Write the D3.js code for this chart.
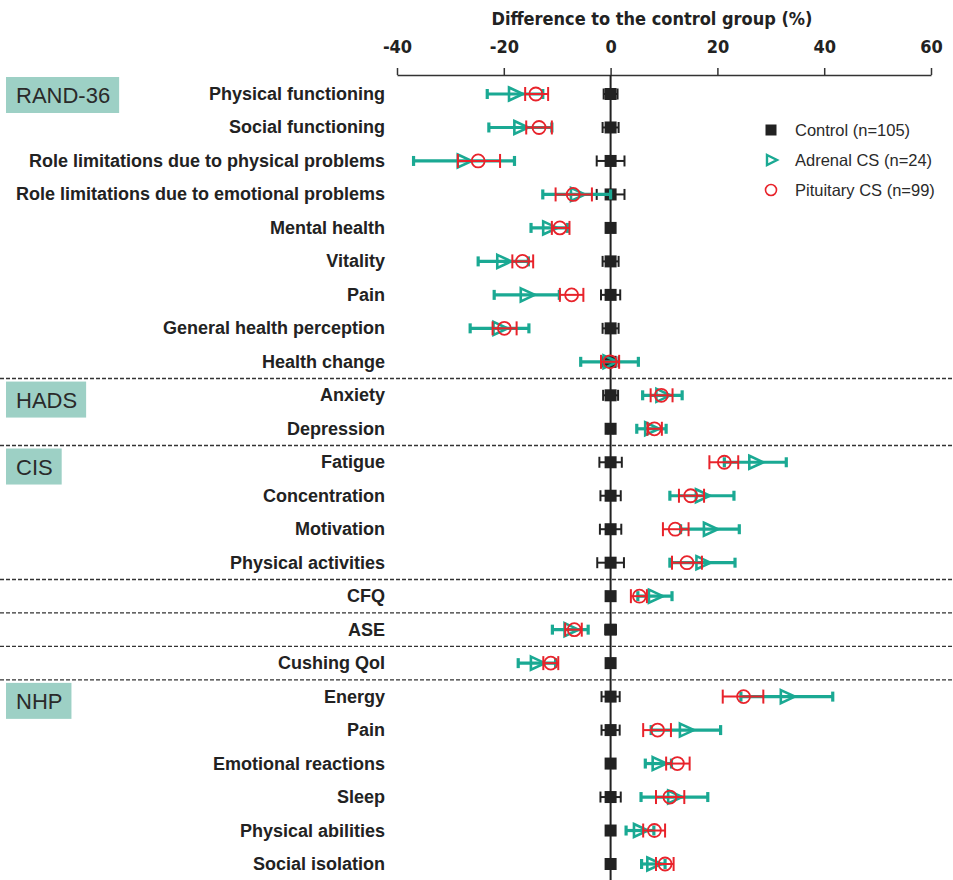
<!DOCTYPE html>
<html>
<head>
<meta charset="utf-8">
<script src="https://cdn.jsdelivr.net/npm/d3@7"></script>
<style>
  html, body { margin: 0; padding: 0; background: #fff; }
  svg { display: block; }
</style>
</head>
<body>
<svg id="chart" width="953" height="880"></svg>
<script>
// Outcome measures, top to bottom
const categories = [
  "Physical functioning", "Social functioning",
  "Role limitations due to physical problems", "Role limitations due to emotional problems",
  "Mental health", "Vitality", "Pain", "General health perception", "Health change",
  "Anxiety", "Depression",
  "Fatigue", "Concentration", "Motivation", "Physical activities",
  "CFQ", "ASE", "Cushing QoI",
  "Energy", "Pain ", "Emotional reactions", "Sleep", "Physical abilities", "Social isolation"
];

// Questionnaire blocks: name and index of their first row
const groupNames = ["RAND-36", "HADS", "CIS", "NHP"];
const groupFirstRow = [0, 9, 11, 18];
// Dashed separators are drawn below these rows
const separatorAfter = [8, 10, 14, 15, 16, 17];

// Control group: mean 0, half-width of the 95% CI
const controlHalfCI = [1.3, 1.5, 2.6, 2.6, 0.6, 1.5, 1.8, 1.5, 1.5, 1.4, 0.5,
  2.1, 1.9, 2.0, 2.5, 0.8, 1.0, 0.5, 1.7, 1.7, 0.5, 1.9, 0.5, 0.5];

// Adrenal CS (n=24)
const adrenalMean = [-17.9, -16.9, -27.5, -6.3, -11.5, -20.1, -15.7, -20.8, -0.2,
  9.7, 7.6, 27.1, 17.1, 18.6, 17.2, 8.3, -7.5, -13.8, 33.0, 14.1, 9.0, 11.9, 5.5, 8.0];
const adrenalLow = [-23.1, -22.8, -36.9, -12.7, -14.9, -24.8, -21.8, -26.3, -5.6,
  6.0, 4.9, 21.3, 11.1, 13.1, 11.1, 5.1, -10.9, -17.3, 24.4, 7.6, 6.5, 5.7, 2.9, 5.8];
const adrenalHigh = [-12.7, -11.0, -18.0, 0.0, -8.1, -15.4, -9.6, -15.3, 5.2,
  13.4, 10.4, 32.9, 23.1, 24.1, 23.3, 11.5, -4.2, -10.3, 41.6, 20.6, 11.4, 18.2, 8.1, 10.2];

// Pituitary CS (n=99)
const pituitaryMean = [-14.0, -13.4, -24.8, -7.0, -9.5, -16.5, -7.3, -19.9, -0.1,
  9.5, 8.2, 21.3, 15.0, 12.1, 14.3, 5.4, -6.8, -11.2, 24.9, 8.8, 12.5, 11.1, 8.2, 10.2];
const pituitaryLow = [-16.0, -15.8, -28.6, -10.3, -11.0, -18.4, -9.5, -22.1, -1.8,
  7.5, 6.9, 18.5, 12.8, 9.8, 11.5, 3.8, -8.5, -12.6, 21.0, 6.1, 10.4, 8.5, 6.1, 8.5];
const pituitaryHigh = [-11.7, -11.0, -20.7, -3.5, -7.7, -14.5, -5.1, -17.6, 1.6,
  11.6, 9.6, 23.9, 17.5, 14.6, 17.1, 6.8, -5.4, -9.8, 28.6, 11.3, 14.8, 13.8, 10.2, 11.8];

const tickValues = [-40, -20, 0, 20, 40, 60];
const axisTitle = "Difference to the control group (%)";
const legendLabels = ["Control (n=105)", "Adrenal CS (n=24)", "Pituitary CS (n=99)"];

const TEAL = "#1aa993";
const RED = "#e8232b";
const DARK = "#222";
const BOX = "#9dd0c5";
const CONDENSED = "'Liberation Sans Narrow', 'DejaVu Sans Condensed', Arial, sans-serif";

const svg = d3.select("#chart");
const W = 953, H = 880;

const x = d3.scaleLinear().domain([-40, 60]).range([397, 931]);
const y = d3.scalePoint().domain(d3.range(categories.length)).range([94, 864]);
const step = y.step();

// Top axis (plain hyphen-minus in labels)
const axisY = 75;
const axis = svg.append("g")
  .attr("transform", `translate(0,${axisY})`)
  .call(d3.axisTop(x).tickValues(tickValues).tickFormat(d => String(d))
    .tickSize(7).tickSizeOuter(0).tickPadding(15));
axis.select(".domain").attr("stroke", "#333").attr("stroke-width", 1.5);
axis.selectAll(".tick line").attr("stroke", "#333").attr("stroke-width", 1.5);
axis.selectAll(".tick text")
  .attr("font-family", CONDENSED)
  .attr("font-weight", "bold").attr("font-size", 18).attr("fill", DARK);

svg.append("text")
  .attr("x", 652).attr("y", 25).attr("text-anchor", "middle")
  .attr("font-family", CONDENSED)
  .attr("font-weight", "bold").attr("font-size", 18).attr("fill", DARK)
  .text(axisTitle);

// Dashed separators between questionnaires
svg.append("g").selectAll("line").data(separatorAfter).join("line")
  .attr("x1", 0).attr("x2", W)
  .attr("y1", i => y(i) + step / 2).attr("y2", i => y(i) + step / 2)
  .attr("stroke", "#333").attr("stroke-width", 1.4).attr("stroke-dasharray", "4,2");

// Zero reference line
svg.append("line")
  .attr("x1", x(0)).attr("x2", x(0)).attr("y1", axisY).attr("y2", H)
  .attr("stroke", DARK).attr("stroke-width", 2);

// Row labels
svg.append("g").selectAll("text").data(categories).join("text")
  .attr("x", 385).attr("y", (d, i) => y(i) + 6)
  .attr("text-anchor", "end")
  .attr("font-family", "'Liberation Sans', Arial, sans-serif")
  .attr("font-weight", "bold").attr("font-size", 18).attr("fill", DARK)
  .text(d => d.trim());

// Questionnaire name boxes
const sepY = separatorAfter.map(i => y(i) + step / 2);
groupNames.forEach((name, g) => {
  const rowY = y(groupFirstRow[g]);
  const above = sepY.filter(s => s < rowY);
  const limit = above.length ? d3.max(above) + 3 : axisY + 2;
  const top = Math.max(rowY - 17, limit);
  const grp = svg.append("g");
  const rect = grp.append("rect").attr("x", 6).attr("y", top).attr("height", 36).attr("fill", BOX);
  const t = grp.append("text")
    .attr("x", 16).attr("y", top + 26)
    .attr("font-family", "'Liberation Sans', Arial, sans-serif")
    .attr("font-size", 22).attr("fill", "#2a2a2a").text(name);
  rect.attr("width", t.node().getComputedTextLength() + 19);
});

// Error bar helper
function errorBars(lo, hi, color, width, capH) {
  const g = svg.append("g").attr("stroke", color).attr("stroke-width", width).attr("fill", "none");
  const idx = d3.range(categories.length);
  g.selectAll(".bar").data(idx).join("line")
    .attr("x1", i => x(lo[i])).attr("x2", i => x(hi[i]))
    .attr("y1", i => y(i)).attr("y2", i => y(i));
  g.selectAll(".capl").data(idx).join("line")
    .attr("x1", i => x(lo[i])).attr("x2", i => x(lo[i]))
    .attr("y1", i => y(i) - capH / 2).attr("y2", i => y(i) + capH / 2);
  g.selectAll(".caph").data(idx).join("line")
    .attr("x1", i => x(hi[i])).attr("x2", i => x(hi[i]))
    .attr("y1", i => y(i) - capH / 2).attr("y2", i => y(i) + capH / 2);
}

// Control
const ctrlLo = controlHalfCI.map(h => -h), ctrlHi = controlHalfCI.map(h => h);
errorBars(ctrlLo, ctrlHi, DARK, 2, 11);
svg.append("g").selectAll("rect").data(d3.range(categories.length)).join("rect")
  .attr("x", x(0) - 6).attr("y", i => y(i) - 6).attr("width", 12).attr("height", 12)
  .attr("fill", DARK);

// Adrenal CS
errorBars(adrenalLow, adrenalHigh, TEAL, 3.2, 10);
const tri = "M-6,-6.5L8,0L-6,6.5Z";
svg.append("g").selectAll("path").data(d3.range(categories.length)).join("path")
  .attr("d", tri)
  .attr("transform", i => `translate(${x(adrenalMean[i])},${y(i)})`)
  .attr("fill", "none").attr("stroke", TEAL).attr("stroke-width", 2.6).attr("stroke-linejoin", "miter");

// Pituitary CS
errorBars(pituitaryLow, pituitaryHigh, RED, 2, 14);
svg.append("g").selectAll("circle").data(d3.range(categories.length)).join("circle")
  .attr("cx", i => x(pituitaryMean[i])).attr("cy", i => y(i)).attr("r", 6.5)
  .attr("fill", "none").attr("stroke", RED).attr("stroke-width", 1.8);

// Legend
const lg = svg.append("g").attr("transform", "translate(771,0)");
const legendY = [130, 160, 190];
lg.append("rect").attr("x", -5.5).attr("y", legendY[0] - 5.5).attr("width", 11).attr("height", 11).attr("fill", DARK);
lg.append("path").attr("d", "M-4,-5L6,0L-4,5Z").attr("transform", `translate(0,${legendY[1]})`)
  .attr("fill", "none").attr("stroke", TEAL).attr("stroke-width", 2.4);
lg.append("circle").attr("cx", 0).attr("cy", legendY[2]).attr("r", 5.5)
  .attr("fill", "none").attr("stroke", RED).attr("stroke-width", 1.6);
lg.selectAll("text").data(legendLabels).join("text")
  .attr("x", 24).attr("y", (d, i) => legendY[i] + 5.5)
  .attr("font-family", "'Liberation Sans', Arial, sans-serif")
  .attr("font-size", 16.5).attr("fill", "#2a2a2a")
  .text(d => d);
</script>
</body>
</html>
